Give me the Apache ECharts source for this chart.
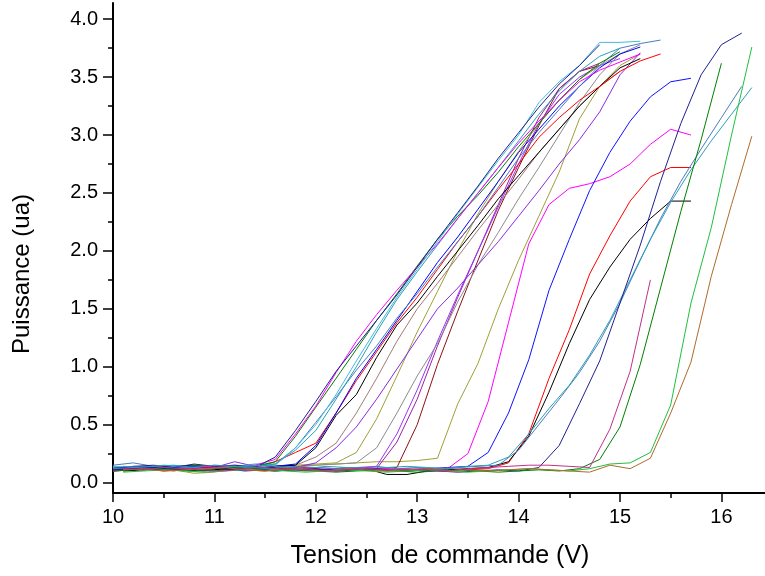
<!DOCTYPE html>
<html>
<head>
<meta charset="utf-8">
<script src="https://cdn.jsdelivr.net/npm/echarts@6/dist/echarts.min.js"></script>
<style>
  html, body { margin: 0; padding: 0; background: #fff; }
  #chart { width: 765px; height: 576px; }
</style>
</head>
<body>
<div id="chart"></div>
<script>
// measurement grids (V): curves sampled every 0.2 V, on even or odd tenths
const xEven = [10.0, 10.2, 10.4, 10.6, 10.8, 11.0, 11.2, 11.4, 11.6, 11.8, 12.0, 12.2, 12.4, 12.6, 12.8, 13.0,
  13.2, 13.4, 13.6, 13.8, 14.0, 14.2, 14.4, 14.6, 14.8, 15.0, 15.2, 15.4, 15.6, 15.8, 16.0, 16.2, 16.4];
const xOdd = [10.1, 10.3, 10.5, 10.7, 10.9, 11.1, 11.3, 11.5, 11.7, 11.9, 12.1, 12.3, 12.5, 12.7, 12.9, 13.1,
  13.3, 13.5, 13.7, 13.9, 14.1, 14.3, 14.5, 14.7, 14.9, 15.1, 15.3, 15.5, 15.7, 15.9, 16.1, 16.3];

// main bundle of curves (even grid)
const navyA = [0.12, 0.14, 0.15, 0.13, 0.16, 0.14, 0.15, 0.13, 0.22, 0.45, 0.70, 0.96, 1.18, 1.40, 1.62, 1.86,
  2.10, 2.33, 2.56, 2.80, 3.02, 3.24, 3.44, 3.60, 3.78];
const magentaA = [0.10, 0.12, 0.11, 0.13, 0.12, 0.14, 0.13, 0.15, 0.20, 0.42, 0.66, 0.95, 1.22, 1.45, 1.66, 1.86,
  2.06, 2.28, 2.50, 2.72, 2.93, 3.12, 3.30, 3.46, 3.56, 3.63, 3.70];
const greenA = [0.11, 0.13, 0.14, 0.12, 0.15, 0.13, 0.12, 0.14, 0.18, 0.40, 0.65, 0.90, 1.15, 1.40, 1.63, 1.87,
  2.10, 2.30, 2.48, 2.68, 2.90, 3.10, 3.30, 3.48, 3.62, 3.72];
const cyanA = [0.14, 0.13, 0.12, 0.14, 0.13, 0.15, 0.14, 0.13, 0.15, 0.30, 0.50, 0.76, 1.05, 1.33, 1.60, 1.84,
  2.08, 2.32, 2.55, 2.78, 3.00, 3.28, 3.46, 3.60, 3.80, 3.80, 3.81];
const tealA = [0.13, 0.12, 0.14, 0.15, 0.13, 0.12, 0.14, 0.16, 0.16, 0.28, 0.45, 0.72, 1.00, 1.30, 1.58, 1.82,
  2.05, 2.28, 2.50, 2.72, 2.95, 3.18, 3.38, 3.55, 3.68, 3.75];
const steelA = [0.15, 0.17, 0.14, 0.13, 0.14, 0.13, 0.15, 0.14, 0.16, 0.30, 0.52, 0.74, 0.97, 1.18, 1.42, 1.63,
  1.86, 2.08, 2.30, 2.55, 2.80, 3.02, 3.22, 3.42, 3.60, 3.75, 3.79, 3.82];
const blueA = [0.12, 0.11, 0.13, 0.14, 0.12, 0.13, 0.12, 0.14, 0.14, 0.16, 0.32, 0.60, 0.90, 1.15, 1.40, 1.65,
  1.90, 2.12, 2.36, 2.60, 2.85, 3.05, 3.25, 3.42, 3.58, 3.70, 3.76];
const redA = [0.10, 0.11, 0.12, 0.10, 0.13, 0.12, 0.11, 0.13, 0.18, 0.26, 0.34, 0.60, 0.88, 1.13, 1.38, 1.60,
  1.84, 2.08, 2.30, 2.53, 2.75, 2.98, 3.15, 3.30, 3.42, 3.55, 3.64, 3.70];
const blackA = [0.13, 0.12, 0.11, 0.14, 0.15, 0.13, 0.12, 0.11, 0.14, 0.15, 0.30, 0.58, 0.76, 1.08, 1.36, 1.55,
  1.78, 2.00, 2.22, 2.45, 2.65, 2.85, 3.05, 3.25, 3.42, 3.58, 3.66];
const rosyA = [0.14, 0.13, 0.12, 0.11, 0.12, 0.13, 0.14, 0.12, 0.13, 0.15, 0.22, 0.34, 0.60, 0.90, 1.22, 1.50,
  1.72, 1.95, 2.18, 2.40, 2.62, 2.85, 3.05, 3.25, 3.42, 3.55];
const violetA = [0.12, 0.14, 0.13, 0.12, 0.11, 0.13, 0.18, 0.14, 0.12, 0.13, 0.17, 0.30, 0.48, 0.72, 0.98, 1.24,
  1.50, 1.68, 1.88, 2.08, 2.30, 2.52, 2.75, 2.96, 3.20, 3.52, 3.71];
const oliveA = [0.13, 0.12, 0.12, 0.11, 0.08, 0.09, 0.12, 0.12, 0.14, 0.15, 0.16, 0.17, 0.26, 0.55, 0.92, 1.30,
  1.65, 2.00, 2.32, 2.60, 2.86, 3.10, 3.30, 3.48, 3.60, 3.70];
const greyA = [0.11, 0.12, 0.13, 0.12, 0.14, 0.13, 0.12, 0.14, 0.15, 0.14, 0.15, 0.16, 0.17, 0.30, 0.60, 0.92,
  1.20, 1.56, 1.88, 2.16, 2.45, 2.72, 3.00, 3.28, 3.52, 3.70, 3.78];
const violetB = [0.12, 0.13, 0.12, 0.11, 0.10, 0.12, 0.13, 0.12, 0.11, 0.12, 0.13, 0.12, 0.12, 0.14, 0.42, 0.80,
  1.22, 1.62, 2.00, 2.38, 2.75, 3.10, 3.35, 3.50, 3.60, 3.66];
const purpleA = [0.10, 0.11, 0.12, 0.13, 0.11, 0.10, 0.12, 0.11, 0.12, 0.11, 0.10, 0.11, 0.12, 0.12, 0.35, 0.72,
  1.18, 1.60, 2.00, 2.40, 2.80, 3.15, 3.40, 3.55, 3.62];
const maroonA = [0.12, 0.11, 0.13, 0.12, 0.10, 0.11, 0.13, 0.12, 0.11, 0.12, 0.11, 0.10, 0.11, 0.12, 0.13, 0.50,
  1.02, 1.48, 1.92, 2.35, 2.72, 3.08, 3.40, 3.55, 3.60];
const oliveB = [0.12, 0.13, 0.12, 0.14, 0.13, 0.12, 0.13, 0.14, 0.13, 0.14, 0.15, 0.16, 0.17, 0.18, 0.18, 0.19,
  0.21, 0.68, 1.03, 1.50, 1.92, 2.30, 2.68, 3.14, 3.42, 3.60, 3.70];

// later curves on the right
const magentaB = [0.12, 0.13, 0.11, 0.12, 0.14, 0.12, 0.11, 0.13, 0.12, 0.10, 0.11, 0.12, 0.13, 0.12, 0.11, 0.12,
  0.12, 0.25, 0.70, 1.38, 2.06, 2.40, 2.54, 2.58, 2.64, 2.75, 2.92, 3.05, 3.00];            // odd
const blueB = [0.13, 0.11, 0.12, 0.14, 0.13, 0.12, 0.10, 0.11, 0.13, 0.12, 0.11, 0.13, 0.12, 0.10, 0.11, 0.12,
  0.13, 0.14, 0.26, 0.60, 1.06, 1.66, 2.10, 2.52, 2.85, 3.12, 3.33, 3.46, 3.49];            // odd
const redB = [0.11, 0.12, 0.10, 0.11, 0.13, 0.12, 0.11, 0.10, 0.12, 0.13, 0.11, 0.10, 0.12, 0.11, 0.10, 0.11,
  0.12, 0.11, 0.12, 0.17, 0.42, 0.90, 1.32, 1.80, 2.13, 2.43, 2.64, 2.72, 2.72];             // odd
const blackB = [0.10, 0.11, 0.12, 0.11, 0.10, 0.12, 0.11, 0.13, 0.12, 0.11, 0.10, 0.11, 0.12, 0.07, 0.07, 0.10,
  0.11, 0.12, 0.13, 0.18, 0.40, 0.78, 1.20, 1.58, 1.86, 2.10, 2.28, 2.43, 2.43];             // odd
const steelB = [0.12, 0.13, 0.14, 0.12, 0.13, 0.15, 0.14, 0.13, 0.12, 0.14, 0.13, 0.12, 0.13, 0.14, 0.12, 0.13,
  0.12, 0.13, 0.14, 0.15, 0.28, 0.50, 0.72, 0.95, 1.22, 1.55, 1.92, 2.28, 2.60, 2.88, 3.15, 3.42]; // even
const tealB = [0.14, 0.13, 0.15, 0.14, 0.12, 0.13, 0.14, 0.15, 0.13, 0.12, 0.14, 0.13, 0.12, 0.13, 0.14, 0.13,
  0.12, 0.14, 0.15, 0.22, 0.42, 0.64, 0.84, 1.10, 1.40, 1.75, 2.10, 2.42, 2.70, 2.95, 3.18, 3.41]; // odd
const navyB = [0.11, 0.12, 0.13, 0.12, 0.11, 0.10, 0.12, 0.11, 0.10, 0.11, 0.12, 0.10, 0.11, 0.12, 0.10, 0.11,
  0.10, 0.09, 0.10, 0.11, 0.10, 0.13, 0.32, 0.68, 1.05, 1.55, 2.05, 2.60, 3.10, 3.52, 3.78, 3.88]; // even
const greenB = [0.10, 0.11, 0.12, 0.11, 0.10, 0.12, 0.13, 0.11, 0.10, 0.11, 0.10, 0.09, 0.10, 0.11, 0.10, 0.09,
  0.10, 0.11, 0.10, 0.09, 0.10, 0.11, 0.10, 0.12, 0.20, 0.48, 1.02, 1.68, 2.34, 2.96, 3.62];   // even
const limeB = [0.09, 0.10, 0.11, 0.10, 0.09, 0.10, 0.11, 0.12, 0.10, 0.09, 0.10, 0.11, 0.10, 0.09, 0.10, 0.11,
  0.10, 0.09, 0.10, 0.11, 0.12, 0.11, 0.10, 0.12, 0.16, 0.17, 0.26, 0.67, 1.55, 2.20, 3.00, 3.76]; // odd
const brownB = [0.11, 0.12, 0.10, 0.11, 0.12, 0.13, 0.11, 0.10, 0.12, 0.11, 0.10, 0.12, 0.11, 0.10, 0.11, 0.12,
  0.10, 0.11, 0.10, 0.11, 0.12, 0.11, 0.10, 0.09, 0.15, 0.12, 0.21, 0.60, 1.04, 1.78, 2.40, 2.99]; // odd
const rubyB = [0.12, 0.11, 0.13, 0.12, 0.11, 0.10, 0.12, 0.13, 0.11, 0.12, 0.10, 0.11, 0.12, 0.11, 0.12, 0.11,
  0.10, 0.12, 0.13, 0.14, 0.15, 0.15, 0.14, 0.13, 0.46, 0.96, 1.75];                           // odd

const xTicks = [10, 11, 12, 13, 14, 15, 16];
const yTicks = [0, 0.5, 1, 1.5, 2, 2.5, 3, 3.5, 4];

const curves = [
  { y: oliveB, grid: xEven, color: '#a0a035' },
  { y: maroonA, grid: xEven, color: '#8c1010' },
  { y: purpleA, grid: xEven, color: '#a020a0' },
  { y: violetB, grid: xEven, color: '#9933ff' },
  { y: greyA, grid: xEven, color: '#8c8c8c' },
  { y: oliveA, grid: xEven, color: '#a0a035' },
  { y: violetA, grid: xEven, color: '#8a2be2' },
  { y: rosyA, grid: xEven, color: '#a07c78' },
  { y: blackA, grid: xEven, color: '#000000' },
  { y: redA, grid: xEven, color: '#ff0000' },
  { y: blueA, grid: xEven, color: '#0000ff' },
  { y: steelA, grid: xEven, color: '#4a7cc0' },
  { y: tealA, grid: xEven, color: '#2aa0b4' },
  { y: greenA, grid: xEven, color: '#008000' },
  { y: magentaA, grid: xEven, color: '#ff00ff' },
  { y: cyanA, grid: xEven, color: '#40bedc' },
  { y: navyA, grid: xEven, color: '#202090' },
  { y: magentaB, grid: xOdd, color: '#ff00ff' },
  { y: blueB, grid: xOdd, color: '#1010ff' },
  { y: redB, grid: xOdd, color: '#ff0000' },
  { y: blackB, grid: xOdd, color: '#000000' },
  { y: steelB, grid: xEven, color: '#4a7cc0' },
  { y: tealB, grid: xOdd, color: '#2aa0b4' },
  { y: navyB, grid: xEven, color: '#202090' },
  { y: greenB, grid: xEven, color: '#008000' },
  { y: limeB, grid: xOdd, color: '#20c040' },
  { y: brownB, grid: xOdd, color: '#b06a2a' },
  { y: rubyB, grid: xOdd, color: '#c0308a' }
];

const chart = echarts.init(document.getElementById('chart'), null, { renderer: 'canvas' });

const font = 'Liberation Sans, Arial, sans-serif';

const option = {
  animation: false,
  backgroundColor: '#ffffff',
  grid: { left: 113, right: 0, top: 3, bottom: 83 },
  xAxis: {
    type: 'value',
    min: 10,
    max: 16.43,
    splitNumber: 6,
    axisLine: { show: true, onZero: false, lineStyle: { color: '#000', width: 2 } },
    axisTick: { show: true, length: 9, customValues: xTicks, lineStyle: { color: '#000', width: 1.5 } },
    minorTick: { show: true, splitNumber: 2, length: 5, lineStyle: { color: '#000', width: 1.5 } },
    axisLabel: { customValues: xTicks, color: '#000', fontSize: 20, fontFamily: font, margin: 14 },
    splitLine: { show: false }
  },
  yAxis: {
    type: 'value',
    min: -0.09,
    max: 4.14,
    splitNumber: 8,
    axisLine: { show: true, onZero: false, lineStyle: { color: '#000', width: 2 } },
    axisTick: { show: true, length: 10, customValues: yTicks, lineStyle: { color: '#000', width: 1.5 } },
    minorTick: { show: true, splitNumber: 2, length: 5, lineStyle: { color: '#000', width: 1.5 } },
    axisLabel: {
      customValues: yTicks, color: '#000', fontSize: 20, fontFamily: font, margin: 15,
      formatter: (v) => v.toFixed(1)
    },
    splitLine: { show: false }
  },
  graphic: [
    {
      type: 'text', x: 22, y: 274, rotation: Math.PI / 2,
      style: { text: 'Puissance (ua)', fontSize: 24, fontFamily: font, fill: '#000',
        textAlign: 'center', textVerticalAlign: 'middle' }
    },
    {
      type: 'text', x: 440, y: 556,
      style: { text: 'Tension  de commande (V)', fontSize: 25, fontFamily: font, fill: '#000',
        textAlign: 'center', textVerticalAlign: 'middle' }
    }
  ],
  series: curves.map((c) => ({
    type: 'line',
    data: c.y.map((v, i) => [c.grid[i], v]),
    showSymbol: false,
    symbol: 'none',
    silent: true,
    clip: true,
    lineStyle: { color: c.color, width: 1 }
  }))
};

chart.setOption(option);
</script>
</body>
</html>
